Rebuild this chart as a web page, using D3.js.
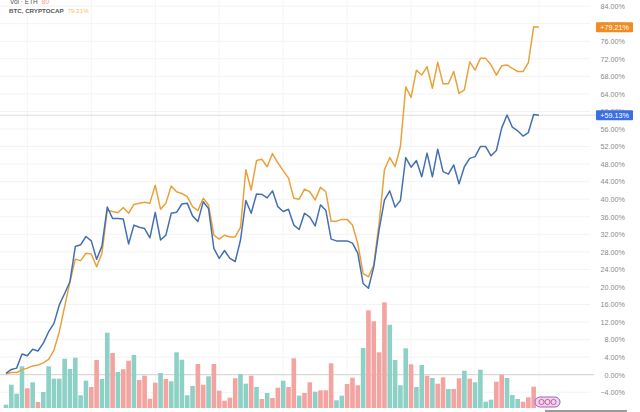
<!DOCTYPE html>
<html>
<head>
<meta charset="utf-8">
<script src="https://cdn.jsdelivr.net/npm/d3@7"></script>
<style>
  html, body { margin: 0; padding: 0; background: #ffffff; overflow: hidden; }
  svg { display: block; font-family: "Liberation Sans", Arial, sans-serif; }
</style>
</head>
<body>
<svg id="chart" width="640" height="412"></svg>
<script>
// ---- data ----
const ethChange = [0.3,1.2,1.5,4.7,4.3,5.8,5.4,7.2,9.8,11.7,15.9,18.5,21.2,29.2,29.6,31.5,30.5,26.3,29.3,38.2,35.6,35.6,35.5,29.8,34.1,33.6,33.3,31.2,37.0,30.7,31.8,36.8,37.0,38.9,39.1,36.2,34.9,39.4,37.9,28.8,26.5,
  28.3,26.5,25.8,30.7,39.7,36.8,41.2,41.1,40.3,41.9,38.3,37.2,37.7,34.1,33.1,36.8,35.9,33.9,38.7,37.5,30.9,30.5,30.5,30.5,30.0,27.7,
  20.8,19.7,24.6,33.0,39.8,41.9,38.2,39.7,49.5,47.3,48.8,45.1,50.5,45.1,51.4,46.3,45.7,47.8,43.5,47.4,49.3,49.7,52.0,52.0,49.9,51.1,56.2,59.2,56.4,55.6,54.4,55.2,59.3,59.13];
const btcChange = [0.2,0.5,0.5,1.1,1.5,2.0,2.2,2.7,3.5,5.6,9.8,15.5,21.2,26.3,26.0,27.7,27.5,24.6,27.7,37.5,37.2,36.9,38.1,36.8,38.8,39.1,39.3,39.1,43.2,37.7,39.1,43.0,41.7,41.3,40.6,38.3,37.4,40.2,38.7,31.8,30.9,
  31.8,31.4,31.4,33.6,46.7,42.1,48.8,49.1,47.4,50.4,48.3,46.5,44.8,40.2,40.0,42.3,41.7,39.8,42.7,41.7,35.0,35.0,35.4,35.4,34.1,29.9,
  23.1,22.3,25.0,34.5,46.7,49.5,47.4,52.0,65.6,63.2,69.4,68.3,70.2,65.3,71.2,66.3,66.3,69.1,64.1,64.9,71.3,69.4,72.1,72.1,70.6,68.3,70.4,70.6,69.8,69.1,69.1,71.1,79.3,79.21];
const volume = [3.3,23.3,14.3,41.7,19.7,25.7,6,16,41.7,29.3,29.3,49.3,39,50.3,12.7,27.3,21,48,29,75.3,55,36,38.7,47.3,53,28,32.3,9.3,25.3,35,29,26.7,55.7,48.3,12.7,22,44,23.3,31.7,44,17.3,
  7.3,10.3,29.7,34,24.3,32.3,21,9,15,10,20.3,27.3,21,49.7,12.3,15,25.7,16.3,17.7,17.7,44.7,7.7,12.3,24,30.3,22.7,60,97.7,86.7,55.7,105.7,83.3,48,22.7,59.7,43.7,21,43,32.3,
  30,24.3,30.7,19,19,29.7,37.3,29.3,25.7,38.3,6.3,8.3,26.3,33.3,30,13,9,6.3,10.7,21.3];
const volumeDir = "uuuududuuuuuuuuudduududdudddduduuuuudduddd" +
  "dduudududduddudduddduudddudddduuuuduudud" +
  "dudduduuuudduuuddduu";
const tickValues = d3.range(-4, 85, 4);
const legendRows = [
  { name: "Vol · ETH", value: "80" },
  { name: "BTC, CRYPTOCAP", value: "79.21%" }
];
const lastEth = "+59.13%";
const lastBtc = "+79.21%";

// ---- layout ----
const svg = d3.select("#chart");
const x = d3.scaleLinear().domain([0, 100]).range([6, 539]);
const y = d3.scaleLinear().domain([-4, 84]).range([392.25, 6.15]);
const yv = d3.scaleLinear().domain([0, 110]).range([408, 298]);
const barW = 4.6;

const colors = {
  eth: "#4470b3", btc: "#e9a23b", up: "#8dd0c6", down: "#f3a3a0",
  grid: "#f3f3f3", text: "#8a8a8a"
};

// grid
svg.append("g").selectAll("line.h").data(tickValues).join("line")
  .attr("x1", 0).attr("x2", 590)
  .attr("y1", d => y(d)).attr("y2", d => y(d))
  .attr("stroke", colors.grid).attr("stroke-width", 1);
svg.append("g").selectAll("line.v").data(d3.range(4, 101, 12)).join("line")
  .attr("x1", d => x(d)).attr("x2", d => x(d))
  .attr("y1", 0).attr("y2", 412)
  .attr("stroke", "#f5f5f5").attr("stroke-width", 1);

// zero line and last-value line
svg.append("line").attr("x1", 0).attr("x2", 594)
  .attr("y1", y(0)).attr("y2", y(0)).attr("stroke", "#d2d2d2").attr("stroke-width", 1);
svg.append("line").attr("x1", 0).attr("x2", 596)
  .attr("y1", y(59.13)).attr("y2", y(59.13)).attr("stroke", "#dcdcdc").attr("stroke-width", 1);

// volume bars
svg.append("g").selectAll("rect").data(volume).join("rect")
  .attr("x", (d, i) => x(i) - barW / 2)
  .attr("width", barW)
  .attr("y", d => yv(d))
  .attr("height", d => yv(0) - yv(d))
  .attr("fill", (d, i) => volumeDir[i] === "u" ? colors.up : colors.down);

// lines
const line = d3.line().x((d, i) => x(i)).y(d => y(d));
svg.append("path").datum(btcChange).attr("d", line)
  .attr("fill", "none").attr("stroke", colors.btc).attr("stroke-width", 1.5).attr("stroke-linejoin", "round");
svg.append("path").datum(ethChange).attr("d", line)
  .attr("fill", "none").attr("stroke", colors.eth).attr("stroke-width", 1.5).attr("stroke-linejoin", "round");

// right axis
const axis = d3.axisRight(y).tickValues(tickValues).tickSize(0)
  .tickFormat(d => (d < 0 ? "\u2212" : "") + d3.format(".2f")(Math.abs(d)) + "%");
const ax = svg.append("g").attr("transform", "translate(625,0)").call(axis);
ax.select(".domain").remove();
ax.selectAll("text").attr("x", 0).attr("text-anchor", "end")
  .attr("fill", colors.text).style("font-size", "7.2px");

// last value badges
function badge(v, label, fill) {
  const cy = y(v);
  svg.append("rect").attr("x", 596).attr("y", cy - 5).attr("width", 37).attr("height", 10)
    .attr("rx", 1).attr("fill", fill);
  svg.append("text").attr("x", 614.5).attr("y", cy + 2.5).attr("text-anchor", "middle")
    .attr("fill", "#ffffff").style("font-size", "7.2px").text(label);
}
badge(79.21, lastBtc, "#f08c22");
badge(59.13, lastEth, "#3b6fe0");

// legend
const lg = svg.append("g");
lg.append("text").attr("x", 10).attr("y", 3.5).style("font-size", "6.5px")
  .call(t => {
    t.append("tspan").attr("fill", "#555").text(legendRows[0].name);
    t.append("tspan").attr("fill", "#f29a96").attr("dx", 4).text(legendRows[0].value);
  });
lg.append("text").attr("x", 9).attr("y", 13).style("font-size", "6.2px").style("font-weight", "bold")
  .call(t => {
    t.append("tspan").attr("fill", "#555").text(legendRows[1].name);
    t.append("tspan").attr("fill", "#f3c46e").attr("dx", 4).style("font-weight", "normal").text(legendRows[1].value);
  });

// small logo pill at the end of the volume
const logo = svg.append("g").attr("transform", "translate(535,397)");
logo.append("rect").attr("width", 25).attr("height", 10).attr("rx", 5)
  .attr("fill", "#eed6f0").attr("stroke", "#a060c8").attr("stroke-width", 1);
logo.selectAll("circle").data([6.5, 12.5, 18.5]).join("circle")
  .attr("cx", d => d).attr("cy", 5).attr("r", 2.6)
  .attr("fill", "none").attr("stroke", "#c0508a").attr("stroke-width", 0.9);
svg.append("rect").attr("x", 545).attr("y", 410).attr("width", 82).attr("height", 2).attr("fill", "#9a9a9a");
</script>
</body>
</html>
